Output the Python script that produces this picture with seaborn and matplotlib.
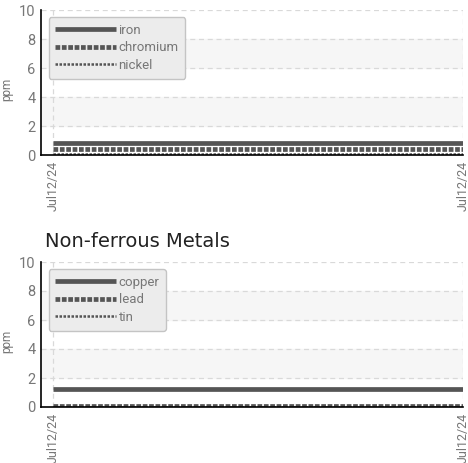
import numpy as np
import pandas as pd
import matplotlib
matplotlib.use("Agg")
import matplotlib.pyplot as plt
import seaborn as sns

# sample times (all on one day)
times = pd.to_datetime(["2024-07-12 08:00", "2024-07-12 20:00"])

ferrous_names = ["iron", "chromium", "nickel"]
ferrous_values = [[0.85, 0.85], [0.4, 0.4], [0.1, 0.1]]

nonferrous_names = ["copper", "lead", "tin"]
nonferrous_values = [[1.25, 1.25], [0.1, 0.1], [0.02, 0.02]]

y_ticks = [0, 2, 4, 6, 8, 10]
x_tick_label = "Jul12/24"

styles = [
    dict(lw=3.4, ls="-"),
    dict(lw=3.4, ls=(0, (1.0, 0.35))),
    dict(lw=1.8, ls=(0, (1.0, 0.6))),
]
LINE_COLOR = "#555555"
TEXT_COLOR = "#777777"
COND_FONT = ["Roboto", "DejaVu Sans"]


def draw_panel(ax, names, values, title=None):
    df = pd.DataFrame({
        "time": np.tile(times, len(names)),
        "ppm": np.concatenate(values),
        "metal": np.repeat(names, len(times)),
    })
    for name, st in zip(names, styles):
        sns.lineplot(data=df[df["metal"] == name], x="time", y="ppm", ax=ax,
                     color=LINE_COLOR, label=name, solid_capstyle="butt",
                     dash_capstyle="butt", linewidth=st["lw"], linestyle=st["ls"])

    t0, t1 = times[0], times[-1]
    pad = (t1 - t0) * 0.03
    ax.set_xlim(t0 - pad, t1)
    ax.set_ylim(0, 10)

    # alternating bands
    for lo in (2, 6):
        ax.axhspan(lo, lo + 2, color="#f6f6f6", zorder=0)

    ax.set_yticks(y_ticks)
    ax.set_xticks([t0, t1])
    ax.set_xticklabels([x_tick_label, x_tick_label], rotation=90,
                       family=COND_FONT, color=TEXT_COLOR, fontsize=9)
    for lab in ax.get_yticklabels():
        lab.set_family(COND_FONT)
        lab.set_color(TEXT_COLOR)
        lab.set_fontsize(10.5)

    ax.grid(True, ls=(0, (4, 3)), color="#d9d9d9", lw=0.9)
    ax.set_axisbelow(True)
    for s in ("top", "right"):
        ax.spines[s].set_visible(False)
    for s in ("left", "bottom"):
        ax.spines[s].set_color("black")
        ax.spines[s].set_linewidth(1.2)
    ax.tick_params(direction="inout", length=6, width=1.2, color="black", pad=1)

    ax.set_xlabel("")
    ax.set_ylabel("ppm", color=TEXT_COLOR, fontsize=8.5, family=COND_FONT)
    ax.yaxis.set_label_coords(-0.065, 0.45)

    leg = ax.legend(loc="upper left", bbox_to_anchor=(0.018, 0.95), handlelength=4.6,
                    handletextpad=0.2, labelspacing=0.35, borderpad=0.5,
                    borderaxespad=0.0, frameon=True, fancybox=True,
                    prop={"family": COND_FONT, "size": 9.5})
    leg.get_frame().set_facecolor("#ececec")
    leg.get_frame().set_edgecolor("#c4c4c4")
    leg.get_frame().set_alpha(1)
    for t in leg.get_texts():
        t.set_color(TEXT_COLOR)

    if title:
        ax.set_title(title, loc="left", fontsize=14, pad=11, x=0.01, color="#222222")


sns.set_style("white")
fig = plt.figure(figsize=(4.68, 4.63), dpi=100)
ax1 = fig.add_axes([41 / 468, 1 - 155 / 463, 422 / 468, 145 / 463])
ax2 = fig.add_axes([41 / 468, 1 - 407 / 463, 422 / 468, 145 / 463])

draw_panel(ax1, ferrous_names, ferrous_values)
draw_panel(ax2, nonferrous_names, nonferrous_values, title="Non-ferrous Metals")

fig.savefig("out.png", dpi=100)
